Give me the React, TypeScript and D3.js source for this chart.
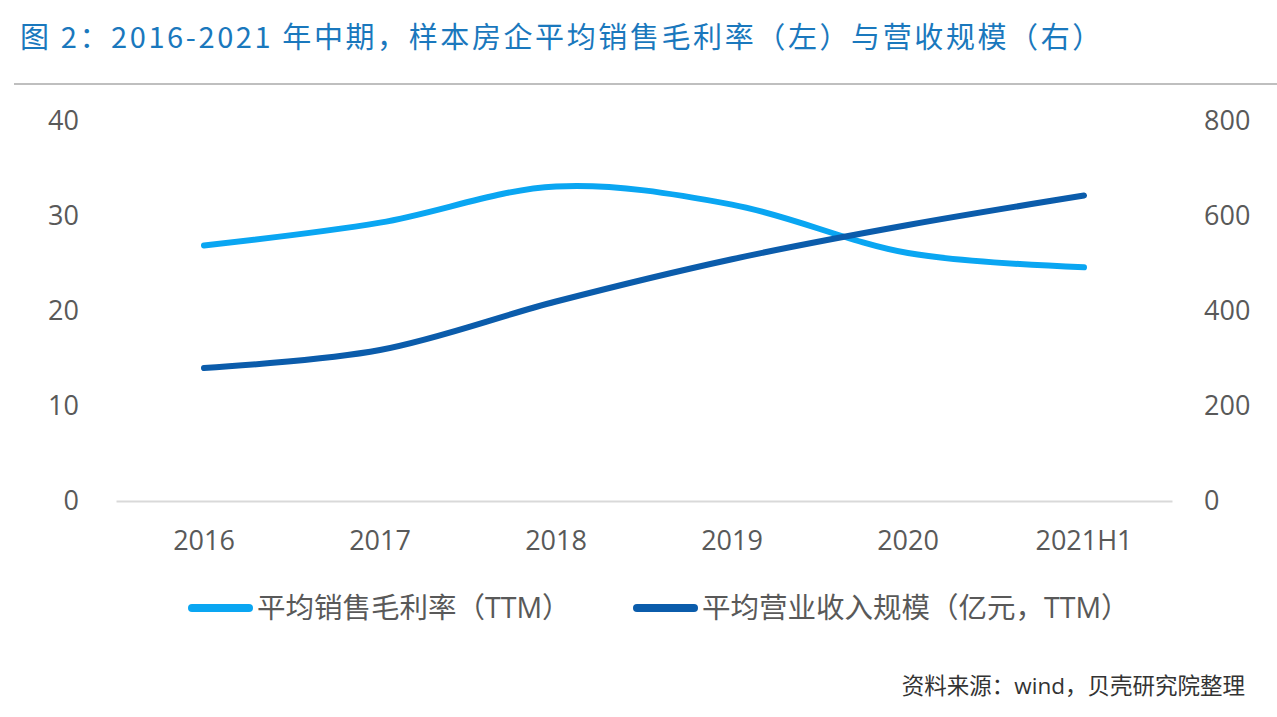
import React, { useRef, useEffect } from 'react';
import * as d3 from 'd3';

const categories = ['2016', '2017', '2018', '2019', '2020', '2021H1'];
const grossMargin = [26.9, 29.3, 33.1, 31.2, 26.1, 24.6];
const revenueScale = [280, 318, 420, 509, 581, 643];
const leftTicks = [0, 10, 20, 30, 40];
const rightTicks = [0, 200, 400, 600, 800];

const titleText = '图 2：2016-2021 年中期，样本房企平均销售毛利率（左）与营收规模（右）';
const legendLabels = ['平均销售毛利率（TTM）', '平均营业收入规模（亿元，TTM）'];
const sourceText = '资料来源：wind，贝壳研究院整理';

const chartStyle = {
  width: 1277,
  height: 717,
  font: '"Noto Sans CJK SC", "Noto Sans", sans-serif',
  latinFont: '"Open Sans", "Noto Sans CJK SC", sans-serif',
  titleColor: '#1a78bd',
  ruleColor: '#bfbfbf',
  tickColor: '#595959',
  baseColor: '#d9d9d9',
  lightLine: '#0aa6f2',
  darkLine: '#0b5cab',
  strokeWidth: 6,
};

const App: React.FC = () => {
  const svgRef = useRef<SVGSVGElement>(null);

  useEffect(() => {
    if (!svgRef.current) return;
    const { width } = chartStyle;
    const svg = d3.select(svgRef.current);
    svg.selectAll('*').remove();

    const xScale = d3.scaleBand<string>()
      .domain(categories)
      .range([116, 1172]);

    const yLeft = d3.scaleLinear().domain([0, 40]).range([501, 121]);
    const yRight = d3.scaleLinear().domain([0, 800]).range([501, 121]);

    // title and rule
    svg.append('text')
      .attr('x', 20)
      .attr('y', 48)
      .attr('fill', chartStyle.titleColor)
      .style('font-family', chartStyle.font)
      .style('font-size', '29px')
      .style('letter-spacing', '2.6px')
      .text(titleText);

    svg.append('line')
      .attr('x1', 14).attr('x2', width)
      .attr('y1', 84).attr('y2', 84)
      .attr('stroke', chartStyle.ruleColor)
      .attr('stroke-width', 2);

    // left axis
    const leftAxis = d3.axisLeft<number>(yLeft)
      .tickValues(leftTicks)
      .tickSize(0)
      .tickPadding(0)
      .tickFormat(d => `${d}`);
    svg.append('g')
      .attr('transform', 'translate(79,0)')
      .call(leftAxis)
      .call(g => g.select('.domain').remove());

    // right axis
    const rightAxis = d3.axisRight<number>(yRight)
      .tickValues(rightTicks)
      .tickSize(0)
      .tickPadding(0)
      .tickFormat(d => `${d}`);
    svg.append('g')
      .attr('transform', 'translate(1204,0)')
      .call(rightAxis)
      .call(g => g.select('.domain').remove());

    // x axis
    const xAxis = d3.axisBottom<string>(xScale).tickSize(0).tickPadding(30);
    svg.append('g')
      .attr('transform', `translate(0, ${yLeft(0)})`)
      .call(xAxis)
      .call(g => g.select('.domain')
        .attr('stroke', chartStyle.baseColor)
        .attr('stroke-width', 2));

    svg.selectAll('.tick text')
      .style('font-family', chartStyle.latinFont)
      .style('font-size', '27px')
      .attr('fill', chartStyle.tickColor);

    const xCenter = (c: string) => (xScale(c) ?? 0) + xScale.bandwidth() / 2;

    const lineLeft = d3.line<number>()
      .x((_, i) => xCenter(categories[i]))
      .y(d => yLeft(d))
      .curve(d3.curveCatmullRom.alpha(0.5));

    const lineRight = d3.line<number>()
      .x((_, i) => xCenter(categories[i]))
      .y(d => yRight(d))
      .curve(d3.curveCatmullRom.alpha(0.5));

    svg.append('path')
      .datum(grossMargin)
      .attr('fill', 'none')
      .attr('stroke', chartStyle.lightLine)
      .attr('stroke-width', chartStyle.strokeWidth)
      .attr('stroke-linecap', 'round')
      .attr('d', lineLeft);

    svg.append('path')
      .datum(revenueScale)
      .attr('fill', 'none')
      .attr('stroke', chartStyle.darkLine)
      .attr('stroke-width', chartStyle.strokeWidth)
      .attr('stroke-linecap', 'round')
      .attr('d', lineRight);

    // legend
    const legend = [
      { label: legendLabels[0], color: chartStyle.lightLine, x: 192 },
      { label: legendLabels[1], color: chartStyle.darkLine, x: 637 },
    ];
    const lg = svg.append('g');
    legend.forEach(item => {
      lg.append('line')
        .attr('x1', item.x).attr('x2', item.x + 57)
        .attr('y1', 608).attr('y2', 608)
        .attr('stroke', item.color)
        .attr('stroke-width', 8)
        .attr('stroke-linecap', 'round');
      lg.append('text')
        .attr('x', item.x + 65)
        .attr('y', 618)
        .attr('fill', chartStyle.tickColor)
        .style('font-family', chartStyle.latinFont)
        .style('font-size', '28.5px')
        .text(item.label);
    });

    // source
    svg.append('text')
      .attr('x', 1245)
      .attr('y', 694)
      .attr('text-anchor', 'end')
      .attr('fill', '#333333')
      .style('font-family', chartStyle.latinFont)
      .style('font-size', '22.5px')
      .text(sourceText);
  }, []);

  return (
    <svg
      ref={svgRef}
      width={chartStyle.width}
      height={chartStyle.height}
      style={{ position: 'absolute', left: 0, top: 0, background: '#fff' }}
    />
  );
};

export default App;
